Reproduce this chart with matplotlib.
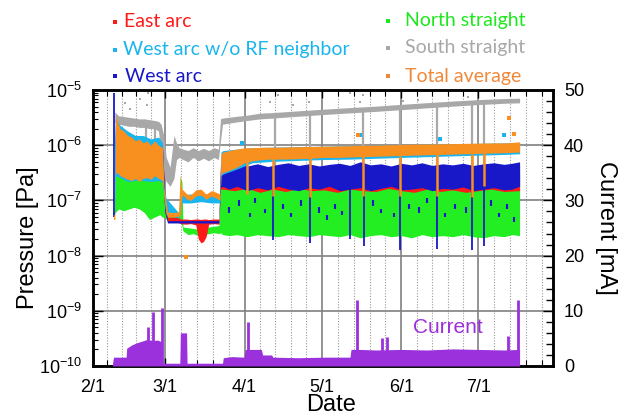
import numpy as np
import matplotlib.pyplot as plt
from matplotlib.lines import Line2D
from matplotlib.ticker import LogLocator, NullFormatter, MultipleLocator

plt.rcParams['font.family'] = ['Liberation Sans', 'DejaVu Sans']
plt.rcParams['mathtext.fontset'] = 'custom'
plt.rcParams['mathtext.rm'] = 'Liberation Sans'
plt.rcParams['mathtext.it'] = 'Liberation Sans:italic'

# x axis: days counted from 2/1
month_labels = ['2/1', '3/1', '4/1', '5/1', '6/1', '7/1']
month_start = [0, 28, 59, 89, 120, 150]
month_len = [28, 31, 30, 31, 30, 31]

# South straight (gray) band [Pa]
south_day = [8.5, 10, 12, 14, 16, 18, 20, 22, 24, 25.5, 26.5, 27.5, 28.5, 30, 31.5, 32.5, 33.5, 35, 37, 39,
             41, 43, 45, 47, 48.8, 49.6, 50.4, 55, 60, 65, 70, 80, 90, 100, 110, 120, 130, 140, 150, 160, 166]
south_lo = [2.6e-6, 2.4e-6, 2.3e-6, 2.2e-6, 2.2e-6, 2.1e-6, 2.1e-6, 2e-6, 2e-6, 1.8e-6, 6e-7, 2.8e-7, 2.2e-7,
            1.8e-7, 2.5e-7, 5.5e-7, 6e-7, 5.5e-7, 5e-7, 6e-7, 5.2e-7, 5.8e-7, 5.2e-7, 6e-7, 5.5e-7, 1.2e-6,
            2.4e-6, 2.6e-6, 2.8e-6, 3e-6, 3.1e-6, 3.35e-6, 3.6e-6, 3.85e-6, 4.1e-6, 4.4e-6, 4.75e-6, 5.1e-6,
            5.45e-6, 5.75e-6, 5.85e-6]
south_hi = [4e-6, 3.4e-6, 3.3e-6, 3.2e-6, 3.1e-6, 3e-6, 3e-6, 2.9e-6, 2.8e-6, 2.7e-6, 2.4e-6, 1.5e-6, 6e-7,
            4e-7, 1.5e-6, 1.1e-6, 9e-7, 8.5e-7, 8e-7, 9e-7, 8e-7, 8.8e-7, 8e-7, 9e-7, 8.5e-7, 3e-6, 3.1e-6,
            3.3e-6, 3.5e-6, 3.8e-6, 3.9e-6, 4.2e-6, 4.5e-6, 4.8e-6, 5.1e-6, 5.5e-6, 5.9e-6, 6.3e-6, 6.7e-6,
            7e-6, 7.1e-6]
south_dip_day = [20.5, 24, 70.9, 84.5, 105, 119.5, 134, 147.5, 152]
south_dip_lo = [9e-7, 7e-7, 3e-7, 2e-7, 2e-7, 1.5e-7, 2e-7, 2e-7, 2.5e-7]
south_dip_hi = [2.2e-6, 2.1e-6, 3.3e-6, 3.6e-6, 4.2e-6, 4.6e-6, 5.2e-6, 5.6e-6, 5.8e-6]
south_out_day = [12.5, 14.4, 18.3, 20.9, 21.4, 68.9, 72, 77.9, 84, 100, 104, 105, 120.7, 126.5, 146]
south_out_p = [5.7e-6, 4.5e-6, 6.9e-6, 5.3e-6, 8.8e-6, 6.1e-6, 8e-6, 5.3e-6, 6.1e-6, 8.7e-6, 6.1e-6,
               8e-6, 6.3e-6, 6.6e-6, 7.6e-6]

# North straight (green) band
north_day = [8.3, 8.6, 10, 12, 14, 16, 18, 20, 22, 24, 26, 27, 28, 29, 31, 33.5, 34, 34.6, 35, 37,
             39, 41, 43, 45, 47, 49, 49.6, 50.4, 53, 56, 60, 64, 68, 72, 76, 80, 84, 88, 92, 96,
             100, 104, 108, 112, 116, 120, 124, 128, 132, 136, 140, 144, 148, 152, 156, 160, 163, 166]
north_lo = [5e-8, 6e-8, 7e-8, 6.5e-8, 7e-8, 7.5e-8, 7e-8, 6e-8, 4.5e-8, 5e-8, 5.5e-8, 5e-8, 4.8e-8, 4.3e-8,
            4.2e-8, 4.3e-8, 4e-8, 3.5e-8, 2.8e-8, 2.4e-8, 2.5e-8, 2.3e-8, 2.4e-8, 2.5e-8, 2.6e-8, 2.5e-8,
            2.6e-8, 2.4e-8, 2.3e-8, 2.4e-8, 2.2e-8, 2.4e-8, 2.3e-8, 2.2e-8, 2.4e-8, 2.3e-8, 2.2e-8, 2.4e-8,
            2.3e-8, 2.2e-8, 2.4e-8, 2.1e-8, 2.3e-8, 2.4e-8, 2.2e-8, 2.3e-8, 2.1e-8, 2.4e-8, 2.2e-8, 2.3e-8,
            2.2e-8, 2.4e-8, 2.2e-8, 2.1e-8, 2.3e-8, 2.2e-8, 2.4e-8, 2.3e-8]
north_hi = [6e-8, 4e-7, 4.2e-7, 4e-7, 3.8e-7, 3.6e-7, 3.6e-7, 3.4e-7, 3.3e-7, 2.8e-7, 3e-7, 2.5e-7, 1.2e-7,
            6.5e-8, 6e-8, 6e-8, 2.5e-7, 2.2e-7, 3.3e-8, 3.2e-8, 3.1e-8, 3e-8, 3.2e-8, 3.3e-8, 3.4e-8, 3.5e-8,
            3e-7, 2.8e-7, 2.6e-7, 3e-7, 2.4e-7, 2.6e-7, 2.3e-7, 2.5e-7, 2.2e-7, 2.4e-7, 2.3e-7, 2.5e-7,
            2.2e-7, 2.4e-7, 2.5e-7, 3e-7, 2.4e-7, 2.6e-7, 2.3e-7, 2.4e-7, 2.3e-7, 2.5e-7, 2.4e-7, 2.3e-7,
            2.4e-7, 2.2e-7, 2.5e-7, 2.4e-7, 2.6e-7, 2.5e-7, 2.8e-7, 3e-7]

# East arc (red) band
east_day = [8.6, 12, 16, 20, 24, 27, 28, 29, 33, 34, 36, 38, 40, 41, 42, 43, 44, 45, 47, 49,
            49.6, 50.4, 55, 60, 65, 70, 75, 80, 85, 90, 95, 100, 105, 110, 115, 120, 125, 130, 135, 140,
            145, 150, 155, 160, 166]
east_lo = [4e-7, 4e-7, 3.5e-7, 4e-7, 3.8e-7, 3.5e-7, 6e-8, 4.2e-8, 4e-8, 3.8e-8, 3.7e-8, 3.8e-8, 3.6e-8,
           2e-8, 1.7e-8, 1.8e-8, 2.2e-8, 3.7e-8, 3.8e-8, 3.7e-8, 1.6e-7, 1.6e-7, 1.5e-7, 1.65e-7, 1.4e-7,
           1.6e-7, 1.45e-7, 1.65e-7, 1.5e-7, 1.55e-7, 1.4e-7, 1.6e-7, 1.5e-7, 1.45e-7, 1.65e-7, 1.5e-7,
           1.4e-7, 1.6e-7, 1.45e-7, 1.55e-7, 1.4e-7, 1.5e-7, 1.6e-7, 1.45e-7, 1.5e-7]
east_hi = [1.1e-6, 1.1e-6, 1e-6, 1.1e-6, 1e-6, 1e-6, 1.2e-7, 5e-8, 5e-8, 4.6e-8, 4.6e-8, 4.5e-8, 4.6e-8,
           4.6e-8, 4.5e-8, 4.6e-8, 4.6e-8, 4.5e-8, 4.6e-8, 4.6e-8, 4e-7, 4e-7, 3.8e-7, 4e-7, 4.2e-7,
           3.9e-7, 4e-7, 4.1e-7, 3.8e-7, 4e-7, 4.2e-7, 3.9e-7, 4e-7, 4.1e-7, 3.9e-7, 4e-7, 4.2e-7, 4e-7,
           3.9e-7, 4.1e-7, 4e-7, 4.2e-7, 4e-7, 4.1e-7, 4.3e-7]

# West arc (blue) band
west_day = [8.6, 12, 16, 20, 24, 27, 28, 29, 34, 40, 45, 49, 49.6, 50.4, 53, 56, 60, 64, 68, 72,
            76, 80, 84, 88, 92, 96, 100, 104, 108, 112, 116, 120, 124, 128, 132, 136, 140, 144, 148, 152,
            156, 160, 163, 166]
west_lo = [3.5e-7, 3.5e-7, 3.2e-7, 3.5e-7, 3.3e-7, 3.2e-7, 6e-8, 3.9e-8, 3.9e-8, 3.9e-8, 3.9e-8, 3.9e-8,
           1.7e-7, 1.8e-7, 1.6e-7, 1.8e-7, 1.5e-7, 1.7e-7, 1.55e-7, 1.8e-7, 1.6e-7, 1.5e-7, 1.7e-7, 1.6e-7,
           1.8e-7, 1.5e-7, 1.6e-7, 1.7e-7, 1.5e-7, 1.65e-7, 1.8e-7, 1.55e-7, 1.6e-7, 1.7e-7, 1.5e-7,
           1.65e-7, 1.6e-7, 1.75e-7, 1.5e-7, 1.6e-7, 1.7e-7, 1.55e-7, 1.6e-7, 1.8e-7]
west_hi = [1.2e-6, 1.2e-6, 1.1e-6, 1.2e-6, 1.1e-6, 1e-6, 1e-7, 4.3e-8, 4.3e-8, 4.3e-8, 4.3e-8, 4.3e-8,
           4.4e-7, 4.2e-7, 4.4e-7, 4.8e-7, 4.2e-7, 4.6e-7, 4.1e-7, 4.5e-7, 4.8e-7, 4.3e-7, 4.6e-7, 4.2e-7,
           4.5e-7, 4.7e-7, 4.3e-7, 5e-7, 4.4e-7, 4.6e-7, 4.2e-7, 4.7e-7, 4.4e-7, 4.8e-7, 4.3e-7, 4.6e-7,
           4.4e-7, 4.7e-7, 4.3e-7, 4.6e-7, 4.8e-7, 4.5e-7, 4.7e-7, 5e-7]
west_dip_day = [8.3, 70, 84.5, 100, 105.5, 119.5, 134, 147.5, 152]
west_dip_lo = [5e-8, 1.9e-8, 1.7e-8, 2e-8, 1.5e-8, 1.25e-8, 1.3e-8, 1.25e-8, 1.5e-8]
west_dip_hi = [8.8e-6, 1.6e-7, 1.6e-7, 1.6e-7, 1.6e-7, 1.6e-7, 1.6e-7, 1.6e-7, 1.6e-7]
west_speck_day = [53, 57, 61, 63, 67, 74, 77, 81, 88, 91, 94, 97, 109, 112, 117, 123, 127, 130, 137, 141,
                  145, 155, 158, 161, 164]
west_speck_lo = [6e-8, 8e-8, 5e-8, 9e-8, 6e-8, 7e-8, 5e-8, 8e-8, 6e-8, 4.5e-8, 7e-8, 5.5e-8, 8e-8, 6e-8,
                 5e-8, 7e-8, 6e-8, 9e-8, 5e-8, 7e-8, 6e-8, 8e-8, 5e-8, 7e-8, 4e-8]
west_speck_hi = [7.5e-8, 1e-7, 6e-8, 1.1e-7, 7e-8, 8.5e-8, 6e-8, 1e-7, 7.5e-8, 5.5e-8, 8.5e-8, 6.5e-8,
                 1e-7, 7e-8, 6e-8, 8.5e-8, 7.5e-8, 1.1e-7, 6e-8, 8.5e-8, 7.5e-8, 1e-7, 6e-8, 8.5e-8, 5e-8]

# West arc w/o RF neighbor (light blue) band
wrf_day = [8.3, 8.7, 10.5, 13.5, 16.5, 19.5, 22.5, 25.5, 27, 27.6, 28.4, 33.3, 34.5, 38, 42, 46,
           49.4, 49.8, 50.6, 56, 62, 70, 80, 90, 100, 110, 120, 130, 140, 150, 160, 166]
wrf_lo = [6e-8, 2.8e-7, 2.6e-7, 2.2e-7, 2.3e-7, 2.3e-7, 2.2e-7, 2.3e-7, 2.1e-7, 1.1e-7, 5.5e-8, 4.8e-8,
          9e-8, 9e-8, 9.5e-8, 9e-8, 9e-8, 2.8e-7, 3e-7, 3.7e-7, 4.8e-7, 5.1e-7, 5.3e-7, 5.5e-7, 5.6e-7,
          5.8e-7, 6e-7, 6.2e-7, 6.4e-7, 6.6e-7, 6.8e-7, 7e-7]
wrf_hi = [1e-6, 3e-6, 2.3e-6, 1.8e-6, 1.5e-6, 1.5e-6, 1.3e-6, 1.4e-6, 1.1e-6, 1.7e-7, 1.1e-7, 6e-8, 1.3e-7,
          1.3e-7, 1.3e-7, 1.3e-7, 1.2e-7, 7.5e-7, 8e-7, 8.5e-7, 9e-7, 9.2e-7, 9.4e-7, 9.6e-7, 9.8e-7, 1e-6,
          1.02e-6, 1.04e-6, 1.06e-6, 1.08e-6, 1.1e-6, 1.12e-6]
wrf_out_day = [58, 104, 135, 160]
wrf_out_p = [1.1e-6, 1.5e-6, 1.3e-6, 1.5e-6]

# Total average (orange) band
tot_day = [8.0, 8.5, 8.7, 9.5, 10.5, 12, 13.5, 15, 16.5, 18, 19.5, 21, 22.5, 24, 25.5, 27, 27.6, 28.4, 29, 31,
           33.3, 33.9, 34.5, 35, 36.5, 38, 40, 42, 44, 46, 48, 49.4, 49.8, 50.6, 53, 56, 59, 62, 66, 70,
           75, 80, 85, 90, 95, 100, 105, 110, 115, 120, 125, 130, 135, 140, 145, 150, 155, 160, 163, 166]
tot_lo = [4.5e-8, 4.5e-8, 3e-7, 3.2e-7, 2.8e-7, 2.6e-7, 2.4e-7, 2.3e-7, 2.5e-7, 2.2e-7, 2.5e-7, 2.6e-7,
          2.4e-7, 2.8e-7, 2.5e-7, 2.3e-7, 1.2e-7, 6e-8, 5e-8, 5e-8, 5.2e-8, 5e-8, 1.1e-7, 1.25e-7, 1.05e-7,
          1.0e-7, 1.2e-7, 1.25e-7, 1.05e-7, 1.2e-7, 1.1e-7, 1.0e-7, 3e-7, 3.2e-7, 3.5e-7, 4e-7, 4.8e-7,
          5.2e-7, 5.5e-7, 5.6e-7, 5.6e-7, 5.7e-7, 5.8e-7, 6e-7, 6e-7, 6.1e-7, 6.2e-7, 6.3e-7, 6.4e-7, 6.5e-7,
          6.6e-7, 6.7e-7, 6.8e-7, 6.9e-7, 7e-7, 7.1e-7, 7.2e-7, 7.3e-7, 7.4e-7, 7.5e-7]
tot_hi = [5.5e-8, 5.5e-8, 3.5e-6, 2.6e-6, 2e-6, 1.8e-6, 1.5e-6, 1.4e-6, 1.2e-6, 1.3e-6, 1.1e-6, 1.2e-6,
          1.0e-6, 1.2e-6, 1.0e-6, 9e-7, 1.6e-7, 1e-7, 6.2e-8, 6e-8, 6.2e-8, 3e-7, 1.6e-7, 1.55e-7, 1.3e-7,
          1.25e-7, 1.55e-7, 1.6e-7, 1.3e-7, 1.5e-7, 1.4e-7, 1.3e-7, 7e-7, 7.5e-7, 8e-7, 8.5e-7, 9e-7, 9e-7,
          9.2e-7, 9.2e-7, 9.3e-7, 9.4e-7, 9.5e-7, 9.6e-7, 9.7e-7, 9.8e-7, 1e-6, 1e-6, 1.02e-6, 1.03e-6,
          1.04e-6, 1.05e-6, 1.06e-6, 1.07e-6, 1.08e-6, 1.09e-6, 1.1e-6, 1.1e-6, 1.12e-6, 1.15e-6]
tot_dip_day = [59.8, 70, 84.5, 105, 119.5, 133.8, 147.4, 152.2]
tot_dip_lo = [1.3e-7, 1.2e-7, 1.15e-7, 1.2e-7, 1.2e-7, 1.2e-7, 1.15e-7, 1.8e-7]
tot_dip_hi = [6e-7, 6e-7, 6e-7, 6.5e-7, 6.5e-7, 7e-7, 7e-7, 7.2e-7]
tot_out_day = [36, 103, 162, 164]
tot_out_p = [9.5e-9, 1.5e-6, 3.1e-6, 1.6e-6]

# Beam current [mA]
cur_day = [7.6, 8, 12.9, 13.1, 15, 17, 19, 21, 23, 25, 26.8, 27.1, 33.8, 34, 36.4, 36.6, 50.4, 50.7, 54, 58.8,
           59.2, 65.5, 66, 69.5, 70, 80, 90, 100, 100.4, 104, 110, 120, 130, 140, 150, 160, 166]
cur_hi = [0.5, 1.6, 1.6, 3.2, 3.8, 4.2, 4.5, 4.8, 4.6, 4.7, 4.4, 0.5, 0.5, 6.0, 6.0, 0.5, 0.5, 1.5, 1.7, 1.6,
          3.0, 3.0, 2.0, 2.0, 1.6, 1.5, 1.6, 1.6, 3.0, 3.0, 2.9, 3.0, 2.9, 3.1, 3.0, 2.9, 3.0]
cur_spike_day = [21.5, 23.5, 26.7, 60.4, 102.8, 112.5, 114.5, 161.5, 165.5]
cur_spike_hi = [7.0, 9.8, 10.5, 8.0, 12.0, 5.0, 5.3, 5.5, 12.0]

RED = '#ff1a1a'
LBLUE = '#1ab4ee'
BLUE = '#1818c8'
GREEN = '#22ee22'
GRAY = '#a8a8a8'
ORANGE = '#f7901e'
PURPLE = '#9b30dd'

fig = plt.figure(figsize=(6.21, 4.17), dpi=100)
ax = fig.add_axes([93 / 621, 51 / 417, 460 / 621, 276 / 417])
ax.set_yscale('log')
ax.set_ylim(1e-10, 1e-5)
ax.set_xlim(0, 179)

# grid: solid at month starts, dotted at fifths of each month, solid at decades
for m, L in zip(month_start, month_len):
    if m > 0:
        ax.axvline(m, color='#808080', lw=1.2, zorder=0.5)
    for k in range(1, 5):
        ax.axvline(m + k * L / 5, color='#9a9a9a', lw=0.8, ls=(0, (1, 1.5)), zorder=0.5)
for e in [-9, -8, -7, -6]:
    ax.axhline(10.0 ** e, color='#808080', lw=1.2, zorder=0.5)

# pressure bands
ax.fill_between(south_day, south_lo, south_hi, color=GRAY, lw=0, zorder=2)
ax.vlines(south_dip_day, south_dip_lo, south_dip_hi, color=GRAY, lw=1.6, zorder=2)
ax.scatter(south_out_day, south_out_p, s=4, marker='s', color=GRAY, lw=0, zorder=2)
ax.fill_between(north_day, north_lo, north_hi, color=GREEN, lw=0, zorder=3)
ax.fill_between(east_day, east_lo, east_hi, color=RED, lw=0, zorder=4)
ax.fill_between(west_day, west_lo, west_hi, color=BLUE, lw=0, zorder=5)
ax.vlines(west_dip_day, west_dip_lo, west_dip_hi, color=BLUE, lw=1.3, zorder=5)
ax.vlines(west_speck_day, west_speck_lo, west_speck_hi, color=BLUE, lw=1.5, zorder=5)
ax.fill_between(wrf_day, wrf_lo, wrf_hi, color=LBLUE, lw=0, zorder=6)
ax.scatter(wrf_out_day, wrf_out_p, s=5, marker='s', color=LBLUE, lw=0, zorder=6)
ax.fill_between(tot_day, tot_lo, tot_hi, color=ORANGE, lw=0, zorder=7)
ax.vlines(tot_dip_day, tot_dip_lo, tot_dip_hi, color=ORANGE, lw=1.8, zorder=7)
ax.scatter(tot_out_day, tot_out_p, s=5, marker='s', color=ORANGE, lw=0, zorder=7)

# axis ticks
subs = [m + k * L / 5 for m, L in zip(month_start, month_len) for k in range(1, 5)]
ax.set_xticks(month_start)
ax.set_xticklabels(month_labels)
ax.set_xticks(subs, minor=True)
ax.tick_params(axis='x', which='both', direction='in', top=True, bottom=True, labelsize=13, pad=9)
ax.tick_params(axis='x', which='major', length=6, width=1)
ax.tick_params(axis='x', which='minor', length=4, width=0.8)
ax.yaxis.set_major_locator(LogLocator(base=10, numticks=10))
ax.yaxis.set_minor_locator(LogLocator(base=10, subs=range(2, 10), numticks=20))
ax.yaxis.set_minor_formatter(NullFormatter())
ax.tick_params(axis='y', which='both', direction='in', right=False, labelsize=13, pad=8)
ax.tick_params(axis='y', which='major', length=7, width=1)
ax.tick_params(axis='y', which='minor', length=3.5, width=0.8)

ax2 = ax.twinx()
ax2.set_ylim(0, 50)
ax2.yaxis.set_major_locator(MultipleLocator(10))
ax2.yaxis.set_minor_locator(MultipleLocator(2))
ax2.tick_params(axis='y', which='both', direction='in', left=False, labelsize=13, pad=8)
ax2.tick_params(axis='y', which='major', length=7, width=1)
ax2.tick_params(axis='y', which='minor', length=5, width=1)

# current
ax2.fill_between(cur_day, 0, cur_hi, color=PURPLE, lw=0, zorder=3)
ax2.vlines(cur_spike_day, 0, cur_spike_hi, color=PURPLE, lw=2, zorder=3)
ax2.text(0.772, 0.138, 'Current', transform=ax2.transAxes, ha='center', va='center',
         fontsize=15, color=PURPLE)

for a in (ax, ax2):
    for s in a.spines.values():
        s.set_linewidth(1.8)

ax.set_ylabel('Pressure [Pa]', fontsize=17, va='center')
ax.yaxis.set_label_coords(-0.141, 0.464)
ax.set_xlabel('Date', fontsize=17, va='center')
ax.xaxis.set_label_coords(0.517, -0.141)
ax2.set_ylabel('Current [mA]', fontsize=17, rotation=-90, va='center')
ax2.yaxis.set_label_coords(1.115, 0.5)

# legend written above the plot
legend_rows = [
    ('East arc', RED, 115, 124, 27.3),
    ('West arc w/o RF neighbor', LBLUE, 115, 123, 55),
    ('West arc', BLUE, 115, 125, 81.7),
    ('North straight', '#1de81d', 388, 405, 26),
    ('South straight', GRAY, 388, 405, 53),
    ('Total average', '#f0883a', 388, 405, 81.7),
]
for label, c, xd, xt, yb in legend_rows:
    fig.text(xt / 621, 1 - yb / 417, label, color=c, fontsize=14, family=['Lato', 'DejaVu Sans'],
             ha='left', va='baseline')
    fig.add_artist(Line2D([xd / 621], [1 - (yb - 5.5) / 417], marker='s', ms=2.6, mew=0, color=c, lw=0,
                          transform=fig.transFigure))

fig.savefig('out.png', dpi=100)
